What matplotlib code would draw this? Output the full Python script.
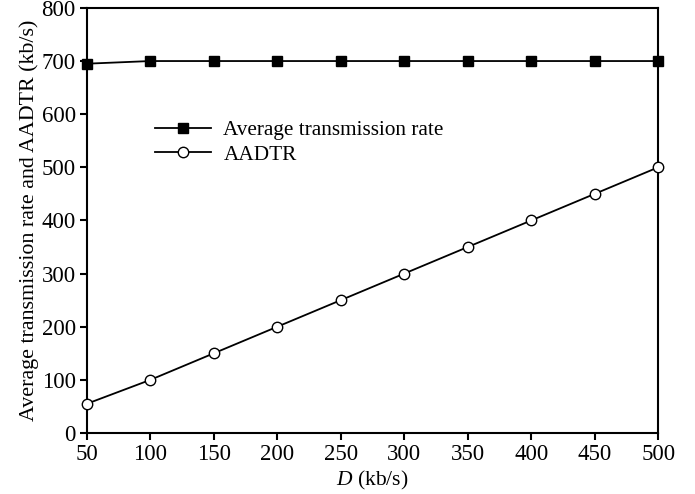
import matplotlib.pyplot as plt

plt.rcParams['font.family'] = ['Liberation Serif', 'DejaVu Serif']
plt.rcParams['mathtext.fontset'] = 'custom'
plt.rcParams['mathtext.it'] = 'Liberation Serif:italic'

d = [50, 100, 150, 200, 250, 300, 350, 400, 450, 500]
avg_rate = [695, 700, 700, 700, 700, 700, 700, 700, 700, 700]
aadtr = [55, 100, 150, 200, 250, 300, 350, 400, 450, 500]

fig = plt.figure(figsize=(6.95, 4.94), dpi=100)
ax = fig.add_axes([0.125, 0.1235, 0.822, 0.8605])

ax.plot(d, avg_rate, color='black', lw=1.3, marker='s', ms=6.5,
        mfc='black', mec='black', label='Average transmission rate', clip_on=False, zorder=3)
ax.plot(d, aadtr, color='black', lw=1.3, marker='o', ms=7.5,
        mfc='white', mec='black', mew=1, label='AADTR', clip_on=False, zorder=3)

ax.set_xlim(50, 500)
ax.set_ylim(0, 800)
ax.set_xticks(range(50, 501, 50))
ax.set_yticks(range(0, 801, 100))
ax.tick_params(direction='out', length=5, width=1.5, labelsize=16.5, colors='black', pad=3)
for s in ax.spines.values():
    s.set_linewidth(1.5)

ax.set_xlabel('$\\it{D}$ (kb/s)', fontsize=15.5, labelpad=3)
ax.set_ylabel('Average transmission rate and AADTR (kb/s)', fontsize=15.8, labelpad=2)

ax.legend(loc='upper left', bbox_to_anchor=(0.105, 0.755), frameon=False,
          fontsize=15.3, handlelength=2.6, handletextpad=0.6, labelspacing=0.2, borderaxespad=0)

fig.savefig('out.png', dpi=100)
